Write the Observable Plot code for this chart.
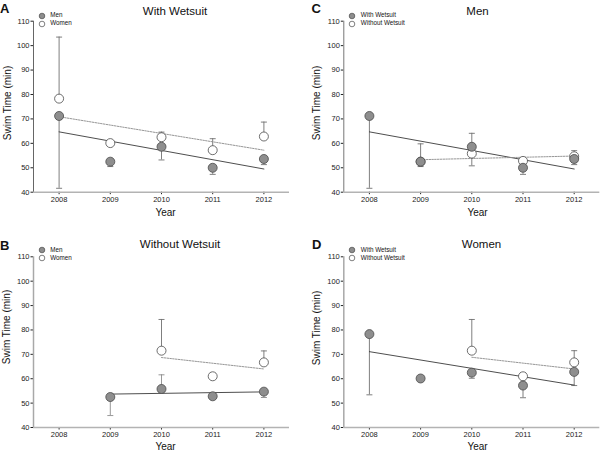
<!DOCTYPE html>
<html><head><meta charset="utf-8">
<script src="https://cdn.jsdelivr.net/npm/d3@7"></script>
<script src="https://cdn.jsdelivr.net/npm/@observablehq/plot@0.6"></script>
<style>
body{margin:0;background:#fff;}
#fig{position:relative;width:600px;height:454px;font-family:"Liberation Sans",Arial,sans-serif;color:#111;overflow:hidden;background:#fff}
.panel{position:absolute}
.t{position:absolute;white-space:nowrap;line-height:1}
.c{transform:translate(-50%,-50%)}
.rot{transform:translate(-50%,-50%) rotate(-90deg)}
</style></head><body><div id="fig"></div><script>
// ---- data ----
const years = [2008, 2009, 2010, 2011, 2012];
const xDomain = [2007.5, 2012.5];
const yDomain = [40, 110];
const yTicks = [40, 50, 60, 70, 80, 90, 100, 110];

const menWith      = [71.2, 52.5, 58.6, 50.0, 53.6];
const womenWith    = [78.3, 60.1, 62.5, 57.2, 62.8];
const menWithout   = [null, 52.5, 55.8, 52.8, 54.7];
const womenWithout = [null, null, 71.5, 61.0, 66.7];

// error-bar ends (per panel, per series)
const errA_men     = [41.6, 50.5, 53.2, 47.3, 51.3];
const errA_women   = [103.5, null, 64.6, 61.9, 68.7];
const errB_men     = [null, 44.9, 61.6, null, 52.3];
const errB_women   = [null, null, 84.3, 62.3, 71.4];
const errC_with    = [41.6, 50.5, 64.1, 47.3, 51.3];
const errC_without = [null, 59.8, 50.8, null, 57.0];
const errD_with    = [53.4, null, 60.2, 52.2, 57.2];
const errD_without = [null, null, 84.3, 62.4, 71.5];

// regression lines (end points)
const trendFullYears = [2008, 2012];
const trendA_men   = [64.7, 49.5];
const trendA_women = [70.9, 57.2];
const trendB_menYears = [2009, 2012], trendB_men = [53.7, 54.6];
const trendB_womenYears = [2010, 2012], trendB_women = [68.7, 64.0];
const trendC_with = [64.7, 49.5];
const trendC_withoutYears = [2009, 2012], trendC_without = [53.3, 54.8];
const trendD_with = [71.1, 57.4];
const trendD_withoutYears = [2010, 2012], trendD_without = [68.8, 64.0];

// ---- helpers ----
const rows = (vals, ends) => years.map((year, i) => ({year, mean: vals[i], end: ends[i]}));
const trend = (xs, ys) => xs.map((x, i) => ({x, y: ys[i]}));
const capSymbol = {draw(ctx, size) { const r = Math.sqrt(size / Math.PI); ctx.moveTo(-r, 0); ctx.lineTo(r, 0); }};
const FILL = "#8e8e8e", EDGE = "#4a4a4a", ERR = "#707070";

function panel(cfg) {
  const marks = [
    Plot.ruleY([yDomain[0]], {stroke: "#b3b3b3", strokeWidth: 1.6}),
    Plot.ruleX([xDomain[0]], {stroke: cfg.yAxisColor, strokeWidth: cfg.yAxisWidth})
  ];
  for (const s of cfg.series) {
    const d = rows(s.vals, s.ends).filter(r => r.mean != null && r.end != null);
    marks.push(Plot.ruleX(d, {x: "year", y1: "mean", y2: "end", stroke: s.errColor || ERR, strokeWidth: 0.9}));
    marks.push(Plot.dot(d, {x: "year", y: "end", symbol: capSymbol, r: 3, stroke: s.errColor || ERR, strokeWidth: 0.9, fill: "none"}));
  }
  for (const s of cfg.series) {
    marks.push(Plot.line(trend(s.tx, s.ty), {x: "x", y: "y",
      stroke: s.filled ? "#3a3a3a" : "#8a8a8a", strokeWidth: s.filled ? 0.9 : 0.9,
      strokeDasharray: s.filled ? null : "1.6,1.2"}));
  }
  for (const s of [...cfg.series].sort((a, b) => a.filled - b.filled)) {
    const d = rows(s.vals, s.ends).filter(r => r.mean != null);
    marks.push(Plot.dot(d, {x: "year", y: "mean", r: 4.5,
      fill: s.filled ? FILL : "white", stroke: EDGE, strokeWidth: 0.8}));
  }
  const p = Plot.plot({
    width: 300, height: 227,
    marginLeft: cfg.ml, marginRight: cfg.mr, marginTop: cfg.mt, marginBottom: cfg.mb,
    style: {fontFamily: "Liberation Sans, Arial, sans-serif", fontSize: "7.5px", color: "#222", background: "transparent", overflow: "visible"},
    x: {domain: xDomain, ticks: years, tickFormat: d => String(d), tickSize: 2.5, tickPadding: 2, label: null},
    y: {domain: yDomain, ticks: yTicks, tickSize: 2.5, tickPadding: 1.5, label: null},
    marks
  });
  const div = document.createElement("div");
  div.className = "panel";
  div.style.left = cfg.left + "px"; div.style.top = cfg.top + "px";
  div.appendChild(p);
  fig.appendChild(div);
}

const fig = document.getElementById("fig");
function text(str, x, y, cls, css) {
  const d = document.createElement("div");
  d.className = "t " + (cls || "");
  d.textContent = str;
  d.style.left = x + "px"; d.style.top = y + "px";
  Object.assign(d.style, css || {});
  fig.appendChild(d);
}
function legend(x, y, labels) {
  labels.forEach((lab, i) => {
    const yy = y + i * 8;
    const svg = document.createElementNS("http://www.w3.org/2000/svg", "svg");
    svg.setAttribute("width", 8); svg.setAttribute("height", 8);
    svg.style.position = "absolute"; svg.style.left = (x - 4) + "px"; svg.style.top = (yy - 4) + "px";
    const c = document.createElementNS("http://www.w3.org/2000/svg", "circle");
    c.setAttribute("cx", 4); c.setAttribute("cy", 4); c.setAttribute("r", 2.8);
    c.setAttribute("fill", i === 0 ? FILL : "white"); c.setAttribute("stroke", EDGE); c.setAttribute("stroke-width", 0.7);
    svg.appendChild(c); fig.appendChild(svg);
    text(lab, x + 8.5, yy - 3.5, "", {fontSize: "6.3px"});
  });
}

// Panel A
panel({left: 0, top: 0, ml: 33, mr: 11, mt: 20.7, mb: 35.3, yAxisColor: "#666", yAxisWidth: 1,
  series: [
    {vals: menWith, ends: errA_men, tx: trendFullYears, ty: trendA_men, filled: true},
    {vals: womenWith, ends: errA_women, tx: trendFullYears, ty: trendA_women, filled: false}
  ]});
// Panel B
panel({left: 0, top: 227, ml: 33, mr: 11, mt: 29.3, mb: 27, yAxisColor: "#a8a8a8", yAxisWidth: 1.5,
  series: [
    {vals: menWithout, ends: errB_men, tx: trendB_menYears, ty: trendB_men, filled: true, errColor: "#8c8c8c"},
    {vals: womenWithout, ends: errB_women, tx: trendB_womenYears, ty: trendB_women, filled: false}
  ]});
// Panel C
panel({left: 300, top: 0, ml: 43.3, mr: 0.7, mt: 20.7, mb: 35.3, yAxisColor: "#777", yAxisWidth: 1,
  series: [
    {vals: menWith, ends: errC_with, tx: trendFullYears, ty: trendC_with, filled: true},
    {vals: menWithout, ends: errC_without, tx: trendC_withoutYears, ty: trendC_without, filled: false}
  ]});
// Panel D
panel({left: 300, top: 227, ml: 43.3, mr: 0.7, mt: 29.3, mb: 27, yAxisColor: "#a8a8a8", yAxisWidth: 1.5,
  series: [
    {vals: womenWith, ends: errD_with, tx: trendFullYears, ty: trendD_with, filled: true},
    {vals: womenWithout, ends: errD_without, tx: trendD_withoutYears, ty: trendD_without, filled: false}
  ]});

// letters
const L = {fontSize: "13px", fontWeight: "bold"};
text("A", 0, 1.5, "", L); text("C", 311.5, 1.5, "", L);
text("B", 0, 238.5, "", L); text("D", 312, 238, "", L);
// titles
const T = {fontSize: "11.5px"};
text("With Wetsuit", 175, 11.5, "c", T);
text("Men", 477.5, 12, "c", T);
text("Without Wetsuit", 180, 245, "c", T);
text("Women", 481.5, 245, "c", T);
// axis labels
const A = {fontSize: "10px"};
text("Year", 165.5, 213.3, "c", A); text("Year", 477.5, 213.3, "c", A);
text("Year", 165.5, 447, "c", A); text("Year", 477.5, 447, "c", A);
text("Swim Time (min)", 7.5, 103, "rot", A); text("Swim Time (min)", 317, 103, "rot", A);
text("Swim Time (min)", 6.5, 327, "rot", A); text("Swim Time (min)", 317, 328, "rot", A);
// legends
legend(41.7, 15.7, ["Men", "Women"]);
legend(352.3, 15.7, ["With Wetsuit", "Without Wetsuit"]);
legend(41.7, 250.3, ["Men", "Women"]);
legend(352.3, 250.3, ["With Wetsuit", "Without Wetsuit"]);
</script></body></html>
